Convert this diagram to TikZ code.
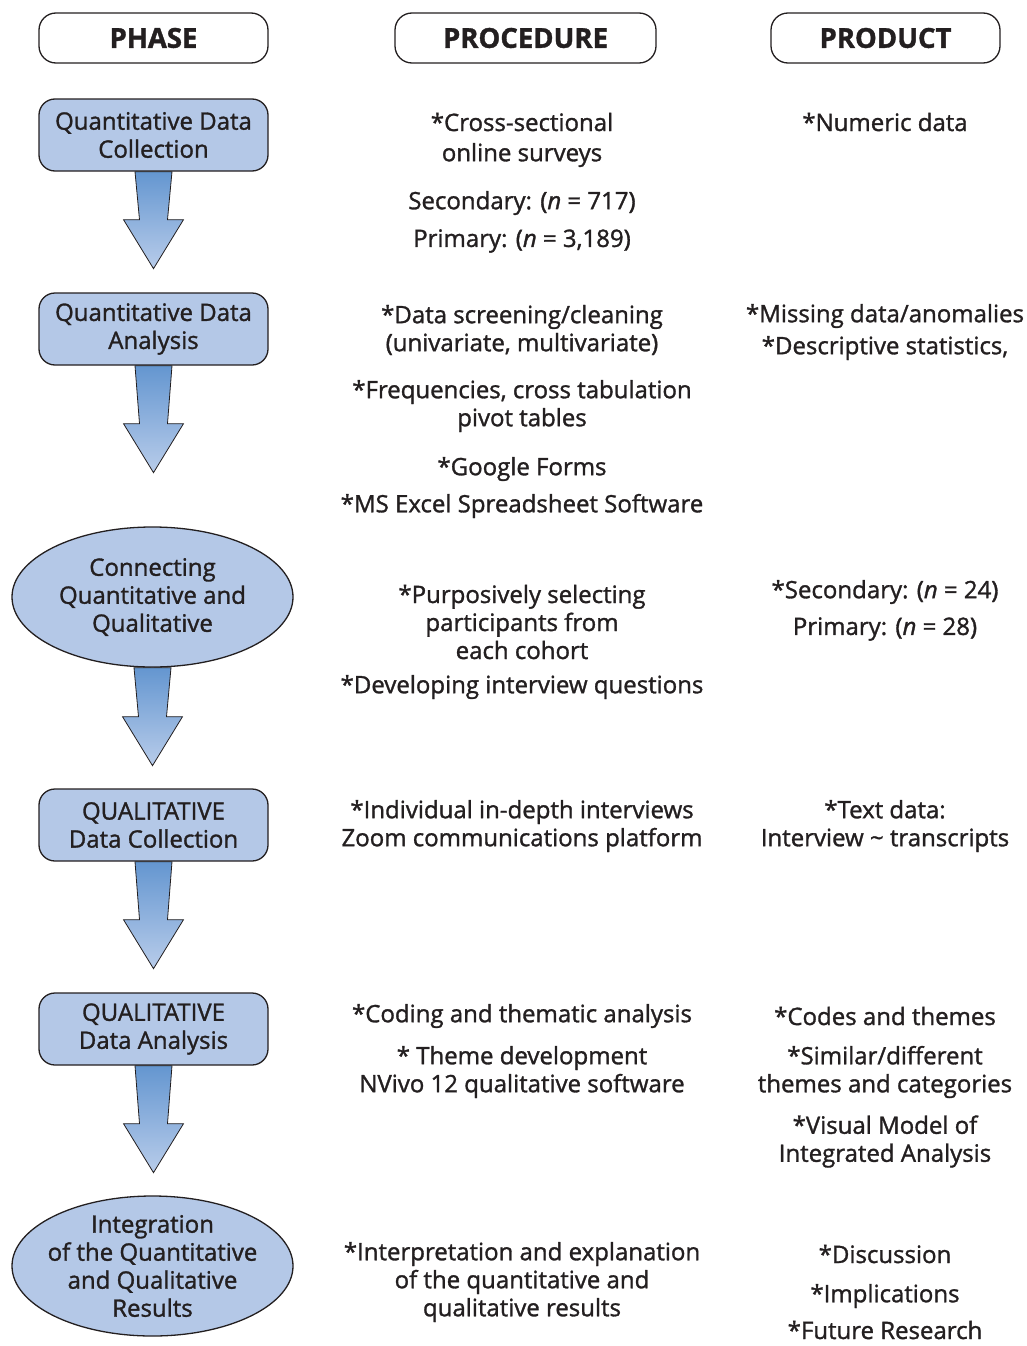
\documentclass[tikz,border=0pt]{standalone}
\usepackage{fontspec}
\setmainfont{Open Sans}[FakeBold=1.3]
\usetikzlibrary{shapes.geometric,backgrounds,calc}
\definecolor{ink}{RGB}{35,31,32}
\definecolor{boxblue}{RGB}{180,200,231}
\definecolor{arrowtop}{RGB}{100,150,208}
\definecolor{arrowbot}{RGB}{184,204,234}
\newcommand{\bodyfont}{\fontsize{24}{28}\selectfont}
\tikzset{
  txt/.style={text=ink, align=center, inner sep=0pt, font=\bodyfont},
  hdr/.style={draw=ink, line width=1.3pt, rounded corners=17pt, minimum width=229pt, minimum height=50pt, inner sep=0pt, text=ink, font=\fontsize{27.5}{30}\selectfont\bfseries},
  phasebox/.style={draw=ink, line width=1.3pt, fill=boxblue, rounded corners=16pt, minimum width=229pt, minimum height=72pt, inner sep=0pt, text=ink, align=center, font=\bodyfont},
  phaseell/.style={ellipse, draw=ink, line width=1.3pt, fill=boxblue, minimum width=281pt, minimum height=140pt, inner sep=-40pt, text=ink, align=center, font=\bodyfont},
  blockarr/.style={top color=arrowtop, bottom color=arrowbot, draw=ink, line width=0.8pt}
}
% block arrow hanging from the south anchor of node #1, total length #2 (pt)
\newcommand{\blockarrow}[2]{%
  \shadedraw[blockarr]
    ($(#1.south)+(-18.5pt,0pt)$) -- ($(#1.south)+(18.5pt,0pt)$)
    -- ($(#1.south)+(14pt,-#2pt+49pt)$) -- ($(#1.south)+(30pt,-#2pt+49pt)$)
    -- ($(#1.south)+(0pt,-#2pt)$) coordinate (#1tip)
    -- ($(#1.south)+(-30pt,-#2pt+49pt)$) -- ($(#1.south)+(-14pt,-#2pt+49pt)$) -- cycle;}
\begin{document}
\begin{tikzpicture}[x=1pt,y=-1pt]
\useasboundingbox (0,0) rectangle (1027,1346);
% headers
\node[hdr] (hphase) at (153.5,38) {\raisebox{-3pt}{PHASE}};
\node[hdr, minimum width=261pt] (hproc) at (525.5,38) {\raisebox{-3pt}{PROCEDURE}};
\node[hdr] (hprod) at (885.5,38) {\raisebox{-3pt}{PRODUCT}};
% phases
\node[phasebox] (q1) at (153.5,135) {Quantitative Data\\Collection};
\node[phasebox] (q2) at (153.5,329) {Quantitative Data\\Analysis};
\node[phaseell] (c3) at (152.5,597) {Connecting\\Quantitative and\\Qualitative};
\node[phasebox] (q4) at (153.5,825) {QUALITATIVE\\Data Collection};
\node[phasebox] (q5) at (153.5,1029) {QUALITATIVE\\Data Analysis};
\node[phaseell] (c6) at (152.5,1266) {Integration\\of the Quantitative\\and Qualitative\\Results};
% arrows
\begin{scope}[on background layer]
\blockarrow{q1}{97}
\blockarrow{q2}{107}
\blockarrow{c3}{98}
\blockarrow{q4}{107}
\blockarrow{q5}{107}
\end{scope}
% procedure column
\node[txt] (pa1) at (522,122) {*Cross-sectional};
\node[txt] (pa2) at (522,155) {online surveys};
\node[txt] (pa3) at (522,203) {Secondary: (\textit{n} = 717)};
\node[txt] (pa4) at (522,241) {Primary: (\textit{n} = 3,189)};
\node[txt] (pb1) at (522,330) {*Data screening/cleaning\\(univariate, multivariate)};
\node[txt] (pb2) at (522,406) {*Frequencies, cross tabulation\\pivot tables};
\node[txt] (pb3) at (522,469) {*Google Forms};
\node[txt] (pb4) at (522,506) {*MS Excel Spreadsheet Software};
\node[txt] (pc1) at (522,622) {*Purposively selecting\\participants from\\each cohort};
\node[txt] (pc2) at (522,687) {*Developing interview questions};
\node[txt] (pd1) at (522,826) {*Individual in-depth interviews\\Zoom communications platform};
\node[txt] (pe1) at (522,1016) {*Coding and thematic analysis};
\node[txt] (pe2) at (522,1072) {* Theme development\\NVivo 12 qualitative software};
\node[txt] (pf1) at (522,1282) {*Interpretation and explanation\\of the quantitative and\\qualitative results};
% product column
\node[txt] (ra1) at (885,122) {*Numeric data};
\node[txt] (rb1) at (885,316) {*Missing data/anomalies};
\node[txt] (rb2) at (885,348) {*Descriptive statistics,};
\node[txt] (rc1) at (885,592) {*Secondary: (\textit{n} = 24)};
\node[txt] (rc2) at (885,629) {Primary: (\textit{n} = 28)};
\node[txt] (rd1) at (885,826) {*Text data:\\Interview \textasciitilde{} transcripts};
\node[txt] (re1) at (885,1016) {*Codes and themes};
\node[txt] (re2) at (885,1072) {*Similar/different\\themes and categories};
\node[txt] (re3) at (885,1141.5) {*Visual Model of\\Integrated Analysis};
\node[txt] (rf1) at (885,1254) {*Discussion};
\node[txt] (rf2) at (885,1296) {*Implications};
\node[txt] (rf3) at (885,1330) {*Future Research};
\end{tikzpicture}
\end{document}
